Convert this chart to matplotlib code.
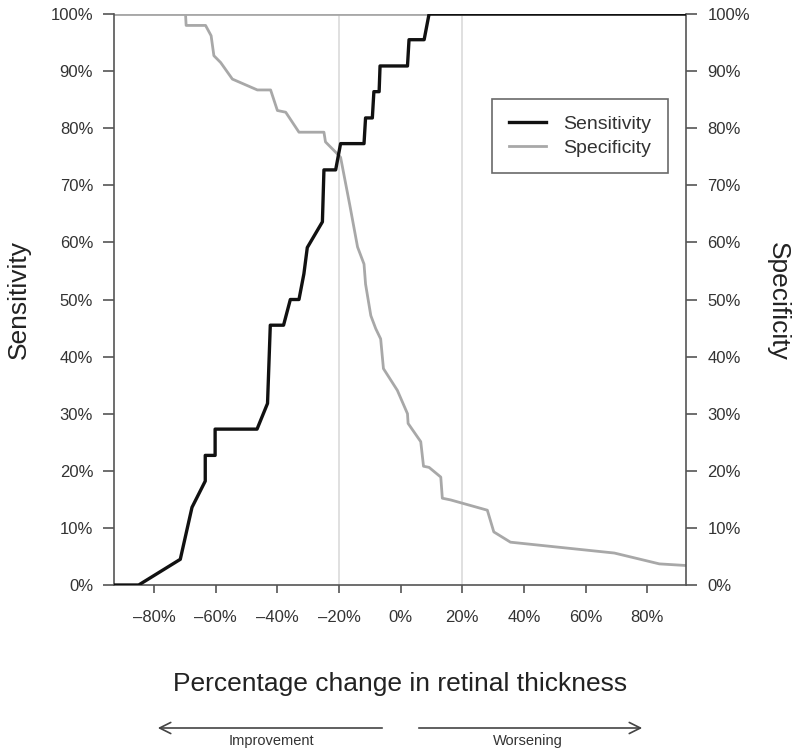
import matplotlib
matplotlib.use('Agg')
import matplotlib.pyplot as plt
from matplotlib.patches import FancyArrowPatch

plt.rcParams['font.family'] = ['Liberation Sans', 'DejaVu Sans']

# sensitivity curve vertices (threshold %, sensitivity %)
sens_x = [-93, -85, -71.5, -67.7, -63.4, -63.4, -60.2, -60.2, -46.6, -43.2, -42.3,
          -38.0, -35.8, -33.0, -31.4, -30.3, -25.4, -24.9, -21.1, -19.5, -11.9,
          -11.4, -9.2, -8.7, -7.0, -6.7, 2.2, 2.7, 7.6, 9.2, 93]
sens_y = [0, 0, 4.5, 13.6, 18.2, 22.7, 22.7, 27.3, 27.3, 31.8, 45.5,
          45.5, 50.0, 50.0, 54.5, 59.1, 63.6, 72.7, 72.7, 77.3, 77.3,
          81.8, 81.8, 86.4, 86.4, 90.9, 90.9, 95.5, 95.5, 100, 100]

# specificity curve vertices (threshold %, specificity %)
spec_x = [-93, -69.8, -69.6, -63.3, -61.5, -60.6, -58.4, -54.6, -46.5, -42.2,
          -40.0, -37.3, -33.0, -24.9, -24.4, -20.0, -19.5, -16.5, -14.0, -11.9,
          -11.4, -9.7, -9.5, -8.1, -6.5, -5.6, -1.1, 2.2, 2.4, 6.5,
          7.4, 9.2, 13.0, 13.5, 16.2, 28.1, 30.2, 35.6, 69.3, 83.9, 93]
spec_y = [100, 100, 98.0, 98.0, 96.2, 92.7, 91.5, 88.6, 86.7, 86.7,
          83.1, 82.8, 79.3, 79.3, 77.6, 75.2, 74.9, 66.5, 59.2, 56.2,
          52.7, 47.2, 46.9, 44.9, 43.1, 37.9, 34.1, 30.0, 28.3, 25.1,
          20.8, 20.6, 18.9, 15.2, 14.9, 13.1, 9.3, 7.5, 5.6, 3.7, 3.4]

x_ticks = [-80, -60, -40, -20, 0, 20, 40, 60, 80]
y_ticks = [0, 10, 20, 30, 40, 50, 60, 70, 80, 90, 100]
ref_lines = [-20, 20]

TXT = '#333333'

fig = plt.figure(figsize=(8, 7.53), dpi=100)
ax = fig.add_axes([0.1425, 0.2231, 0.7156, 0.7583])

# light reference lines at -20% and +20%, grey line at 100%
for v in ref_lines:
    ax.axvline(v, color='#dadada', lw=1.2, zorder=1)
ax.axhline(100, color='#a8a8a8', lw=2, zorder=1)

ax.plot(spec_x, spec_y, color='#a8a8a8', lw=2.0, label='Specificity', zorder=2)
ax.plot(sens_x, sens_y, color='#111111', lw=2.4, label='Sensitivity', zorder=3)

ax.set_xlim(-93, 92.7)
ax.set_ylim(0, 100)
ax.set_xticks(x_ticks)
ax.set_yticks(y_ticks)
ax.xaxis.set_major_formatter(lambda v, p: f'{v:.0f}%'.replace('-', '\u2013'))
ax.yaxis.set_major_formatter(lambda v, p: f'{v:.0f}%')

ax.spines['top'].set_visible(False)
for s in ['left', 'right', 'bottom']:
    ax.spines[s].set_color('#555555')
    ax.spines[s].set_linewidth(1.2)

ax.tick_params(axis='y', left=True, right=True, labelleft=True,
               labelright=True, length=8, width=1.2, color='#555555',
               pad=7, labelsize=12, labelcolor=TXT)
ax.tick_params(axis='x', length=6, width=1.2, color='#555555', pad=12,
               labelsize=12, labelcolor=TXT)

ax.set_ylabel('Sensitivity', fontsize=19, color='#222222', labelpad=14)
ax.set_xlabel('Percentage change in retinal thickness', fontsize=19,
              color='#222222', labelpad=34)
fig.text(0.972, 0.60, 'Specificity', rotation=-90, fontsize=19,
         color='#222222', ha='center', va='center')

handles, labels = ax.get_legend_handles_labels()
leg = ax.legend(handles[::-1], labels[::-1], loc='upper left',
                bbox_to_anchor=(0.661, 0.851), fontsize=14, frameon=True,
                fancybox=False, edgecolor='#444444', handlelength=1.9,
                borderpad=0.85, labelspacing=0.3, handletextpad=0.9,
                borderaxespad=0)
leg.get_frame().set_linewidth(1.2)
for t in leg.get_texts():
    t.set_color(TXT)

# direction arrows under the axis title
arrow_y = 1 - 728 / 753
fig.add_artist(FancyArrowPatch(
    (385 / 800, arrow_y), (155 / 800, arrow_y), transform=fig.transFigure,
    arrowstyle='->', mutation_scale=20, color='#444444', lw=1.2))
fig.add_artist(FancyArrowPatch(
    (416 / 800, arrow_y), (645 / 800, arrow_y), transform=fig.transFigure,
    arrowstyle='->', mutation_scale=20, color='#444444', lw=1.2))
fig.text(271 / 800, 1 - 741 / 753, 'Improvement', fontsize=10.5,
         color=TXT, ha='center', va='center')
fig.text(528 / 800, 1 - 741 / 753, 'Worsening', fontsize=10.5,
         color=TXT, ha='center', va='center')

fig.savefig('out.png', dpi=100, facecolor='white')
